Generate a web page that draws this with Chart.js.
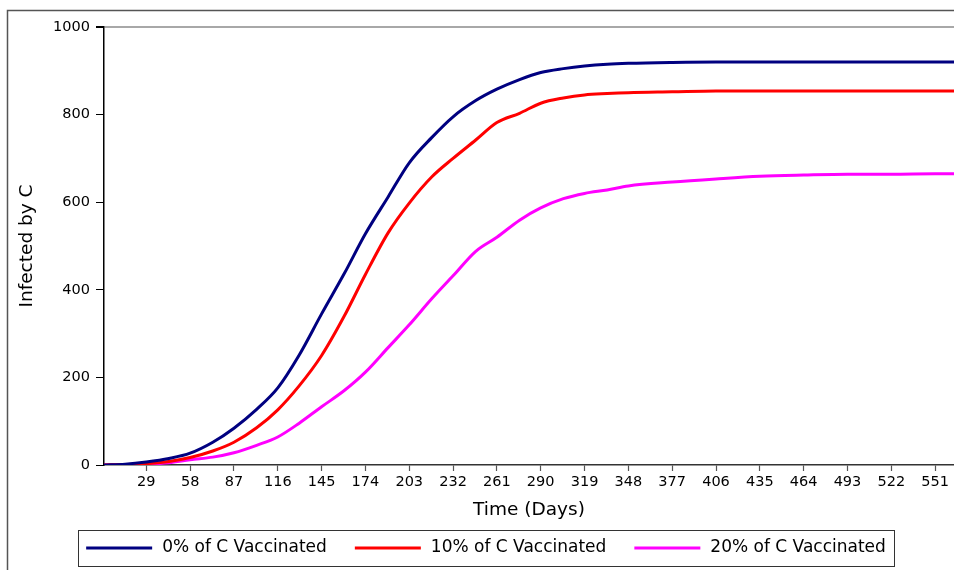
<!DOCTYPE html>
<html>
<head>
<meta charset="utf-8">
<script src="https://cdn.jsdelivr.net/npm/chart.js@4/dist/chart.umd.min.js"></script>
<style>
  html, body { margin: 0; padding: 0; background: #fff; }
  #wrap { width: 954px; height: 570px; position: relative; }
</style>
</head>
<body>
<div id="wrap"><canvas id="infectedChart"></canvas></div>
<script>
// giorni campionati sulla curva
const days = [1, 15, 29, 44, 58, 73, 87, 102, 116, 130, 145, 160, 174, 189, 203, 218, 232, 247, 261, 276, 290, 305, 319, 334, 348, 377, 406, 435, 464, 493, 522, 551, 564];
const vacc0 = [0, 2, 7, 15, 27, 52, 84, 127, 176, 250, 345, 437, 528, 612, 690, 748, 795, 832, 858, 880, 896, 905, 911, 915, 917, 919, 920, 920, 920, 920, 920, 920, 920];
const vacc10 = [0, 1, 3, 8, 17, 32, 52, 85, 126, 180, 250, 340, 435, 530, 598, 658, 700, 742, 782, 803, 826, 838, 845, 848, 850, 852, 854, 854, 854, 854, 854, 854, 854];
const vacc20 = [0, 1, 2, 5, 12, 18, 28, 45, 64, 95, 133, 170, 212, 268, 320, 380, 432, 488, 520, 559, 587, 608, 620, 628, 637, 646, 653, 659, 662, 664, 664, 665, 665];
const seriesLabels = ['0% of C Vaccinated', '10% of C Vaccinated', '20% of C Vaccinated'];
const seriesColors = ['#000080', '#ff0000', '#ff00ff'];
const xTicks = [29, 58, 87, 116, 145, 174, 203, 232, 261, 290, 319, 348, 377, 406, 435, 464, 493, 522, 551];
const yTicks = [0, 200, 400, 600, 800, 1000];

const FONT = 'DejaVu Sans';

function toPoints(values) {
    return values.map((v, i) => ({ x: days[i], y: v }));
}

// cornice esterna (solo lati superiore e sinistro visibili)
const framePlugin = {
    id: 'frame',
    beforeDraw(chart) {
        const ctx = chart.ctx;
        ctx.save();
        ctx.strokeStyle = '#555';
        ctx.lineWidth = 1.5;
        ctx.strokeRect(7.5, 10.5, 1000, 700);
        ctx.restore();
    }
};

// legenda con riquadro sotto il grafico
const boxLegendPlugin = {
    id: 'boxLegend',
    afterDraw(chart) {
        const ctx = chart.ctx;
        const sets = chart.data.datasets;
        const lineLen = 66, textGap = 10, itemGap = 28, pad = 8;
        const cy = 548;
        ctx.save();
        ctx.font = '17px "' + FONT + '"';
        const widths = sets.map(ds => ctx.measureText(ds.label).width);
        let total = widths.reduce((a, w) => a + lineLen + textGap + w, 0) + itemGap * (sets.length - 1);
        const cx = 486;
        let x = cx - total / 2;
        ctx.strokeStyle = '#333';
        ctx.lineWidth = 1;
        ctx.strokeRect(Math.round(x - pad) + 0.5, 530.5, Math.round(total + pad * 2), 36);
        sets.forEach((ds, i) => {
            ctx.strokeStyle = ds.borderColor;
            ctx.lineWidth = 3;
            ctx.beginPath();
            ctx.moveTo(x, cy);
            ctx.lineTo(x + lineLen, cy);
            ctx.stroke();
            ctx.fillStyle = '#000';
            ctx.textBaseline = 'middle';
            ctx.textAlign = 'left';
            ctx.fillText(ds.label, x + lineLen + textGap, cy);
            x += lineLen + textGap + widths[i] + itemGap;
        });
        ctx.restore();
    }
};

const datasets = [vacc0, vacc10, vacc20].map((vals, i) => ({
    label: seriesLabels[i],
    data: toPoints(vals),
    borderColor: seriesColors[i],
    backgroundColor: seriesColors[i],
    borderWidth: 3,
    pointRadius: 0,
    cubicInterpolationMode: 'monotone',
    fill: false
}));

new Chart(document.getElementById('infectedChart'), {
    type: 'line',
    data: { datasets: datasets },
    options: {
        responsive: true,
        maintainAspectRatio: false,
        animation: false,
        layout: { padding: { top: 27, left: 0, right: 0, bottom: 45 } },
        plugins: {
            legend: { display: false },
            tooltip: { enabled: false }
        },
        scales: {
            x: {
                type: 'linear',
                min: 1,
                max: 563.5,
                afterBuildTicks: scale => { scale.ticks = xTicks.map(v => ({ value: v })); },
                afterFit: scale => { scale.height = 60; },
                ticks: {
                    color: '#000',
                    font: { family: FONT, size: 14.5 },
                    padding: 3,
                    maxRotation: 0,
                    autoSkip: false,
                    callback: v => String(v)
                },
                grid: { drawOnChartArea: false, tickLength: 6, tickColor: '#555', tickWidth: 1.2 },
                border: { display: true, color: '#333', width: 1.5 },
                title: {
                    display: true,
                    text: 'Time (Days)',
                    color: '#000',
                    font: { family: FONT, size: 18.5 },
                    padding: { top: 0, bottom: 4 }
                }
            },
            y: {
                min: 0,
                max: 1000,
                afterBuildTicks: scale => { scale.ticks = yTicks.map(v => ({ value: v })); },
                afterFit: scale => { scale.width = 104; },
                ticks: {
                    color: '#000',
                    font: { family: FONT, size: 14.5 },
                    padding: 6,
                    callback: v => String(v)
                },
                grid: {
                    color: c => (c.tick && c.tick.value === 1000 ? '#a8a8a8' : 'rgba(0,0,0,0)'),
                    lineWidth: c => (c.tick && c.tick.value === 1000 ? 2 : 1),
                    tickColor: '#000',
                    tickLength: 8
                },
                border: { display: true, color: '#000', width: 1.5 },
                title: {
                    display: true,
                    text: 'Infected by C',
                    color: '#000',
                    font: { family: FONT, size: 18.5 },
                    padding: { top: 16, bottom: 0 }
                }
            }
        }
    },
    plugins: [framePlugin, boxLegendPlugin]
});
</script>
</body>
</html>
